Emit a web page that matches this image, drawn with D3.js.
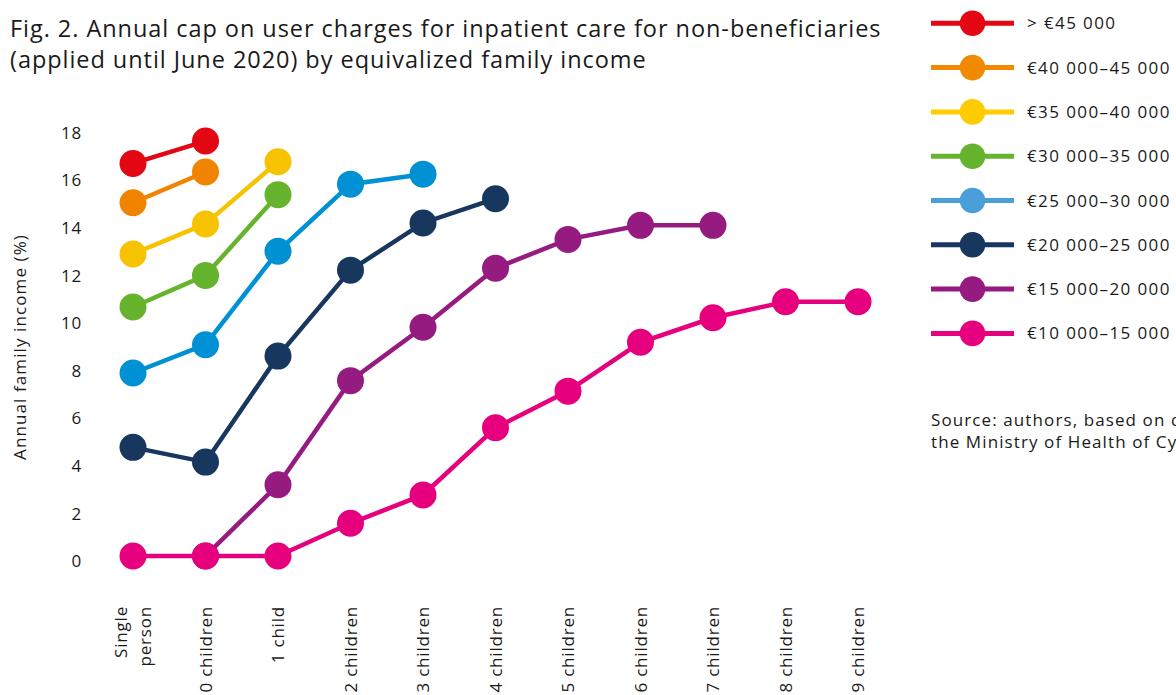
<!DOCTYPE html>
<html><head><meta charset="utf-8">
<script src="https://cdn.jsdelivr.net/npm/d3@7"></script>
<style>
html,body{margin:0;padding:0;background:#fff;overflow:hidden;}
svg{display:block;font-family:"Open Sans",sans-serif;}
svg text{font-family:"Open Sans",sans-serif;}
</style></head>
<body>
<svg id="chart" width="1176" height="695"></svg>
<script>
const categories = ["Single person","0 children","1 child","2 children","3 children","4 children","5 children","6 children","7 children","8 children","9 children"];
const seriesNames = ["> €45 000","€40 000–45 000","€35 000–40 000","€30 000–35 000","€25 000–30 000","€20 000–25 000","€15 000–20 000","€10 000–15 000"];
const lineColors = ["#e30613","#f08400","#f7c200","#66b32e","#0090d4","#17375e","#951b81","#e6007e"];
const legendColors = ["#e30613","#f18a00","#ffcc00","#66b32e","#4a9fd8","#17375e","#951b81","#e6007e"];
// values per series, indexed by category; null = no point
const s45plus = [16.68, 17.62];
const s40_45 = [15.03, 16.32];
const s35_40 = [12.88, 14.14, 16.75];
const s30_35 = [10.65, 11.98, 15.37];
const s25_30 = [7.88, 9.07, 12.99, 15.81, 16.23];
const s20_25 = [4.76, 4.14, 8.59, 12.2, 14.18, 15.2];
const s15_20 = [null, 0.2, 3.19, 7.56, 9.8, 12.28, 13.49, 14.08, 14.08];
const s10_15 = [0.2, 0.2, 0.2, 1.57, 2.76, 5.58, 7.12, 9.17, 10.2, 10.87, 10.87];
const seriesValues = [s45plus, s40_45, s35_40, s30_35, s25_30, s20_25, s15_20, s10_15];
const yTicks = [0,2,4,6,8,10,12,14,16,18];
const titleLines = ["Fig. 2. Annual cap on user charges for inpatient care for non-beneficiaries","(applied until June 2020) by equivalized family income"];
const yLabel = "Annual family income (%)";
const sourceLines = ["Source: authors, based on data from","the Ministry of Health of Cyprus."];

const txt = "#1a1a1a";
const svg = d3.select("#chart");
const x = d3.scalePoint().domain(categories).range([133, 858]);
const y = d3.scaleLinear().domain([0, 18]).range([560.7, 132]);

// title
const title = svg.append("text").attr("x", 10).attr("y", 37).attr("font-size", 23.5)
  .attr("letter-spacing", 0.95).attr("fill", txt);
titleLines.forEach((t, i) => title.append("tspan").attr("x", 10).attr("dy", i === 0 ? 0 : 31).text(t));

// y axis (no line)
const yAxis = svg.append("g").attr("transform", "translate(82,0)")
  .call(d3.axisLeft(y).tickValues(yTicks).tickSize(0).tickPadding(0));
yAxis.attr("font-family", "'Open Sans',sans-serif").attr("font-size", 17);
yAxis.select(".domain").remove();
yAxis.selectAll("text").attr("fill", txt).attr("letter-spacing", 0.8).attr("dy", "0.36em");

svg.append("text").attr("transform", "translate(26,347) rotate(-90)").attr("text-anchor", "middle")
  .attr("font-size", 17).attr("letter-spacing", 1.1).attr("fill", txt).text(yLabel);

// x axis labels
const xAxis = svg.append("g").attr("transform", "translate(0,606)")
  .call(d3.axisBottom(x).tickSize(0).tickFormat(() => ""));
xAxis.attr("font-family", "'Open Sans',sans-serif").attr("font-size", 17);
xAxis.select(".domain").remove();
xAxis.selectAll(".tick").each(function(d) {
  const g = d3.select(this);
  g.selectAll("text").remove();
  const parts = d === "Single person" ? ["Single","person"] : [d];
  parts.forEach((p, i) => {
    const off = parts.length === 1 ? 0 : (i === 0 ? -12 : 12);
    g.append("text").attr("transform", `translate(${off},0) rotate(-90)`)
      .attr("text-anchor", "end").attr("dy", "0.35em")
      .attr("letter-spacing", 0.8).attr("fill", txt).text(p);
  });
});

// lines and points
const line = d3.line().defined(d => d.v != null).x(d => x(d.c)).y(d => y(d.v));
seriesValues.forEach((vals, si) => {
  const pts = vals.map((v, i) => ({c: categories[i], v}));
  const g = svg.append("g");
  g.append("path").datum(pts).attr("d", line).attr("fill", "none")
    .attr("stroke", lineColors[si]).attr("stroke-width", 4.5);
  g.selectAll("circle").data(pts.filter(p => p.v != null)).join("circle")
    .attr("cx", d => x(d.c)).attr("cy", d => y(d.v)).attr("r", 13.5).attr("fill", lineColors[si]);
});

// legend
const legend = svg.append("g");
seriesNames.forEach((n, i) => {
  const ly = 23.3 + i * 44.3;
  legend.append("line").attr("x1", 931).attr("x2", 1014).attr("y1", ly).attr("y2", ly)
    .attr("stroke", legendColors[i]).attr("stroke-width", 5);
  legend.append("circle").attr("cx", 972.5).attr("cy", ly).attr("r", 12.8).attr("fill", legendColors[i]);
  legend.append("text").attr("x", 1027).attr("y", ly + 6).attr("font-size", 17)
    .attr("letter-spacing", 1.4).attr("fill", txt).text(n);
});

// source
const src = svg.append("text").attr("x", 931).attr("y", 426).attr("font-size", 17)
  .attr("letter-spacing", 1.1).attr("fill", txt);
sourceLines.forEach((t, i) => src.append("tspan").attr("x", 931).attr("dy", i === 0 ? 0 : 22).text(t));
</script>
</body></html>
